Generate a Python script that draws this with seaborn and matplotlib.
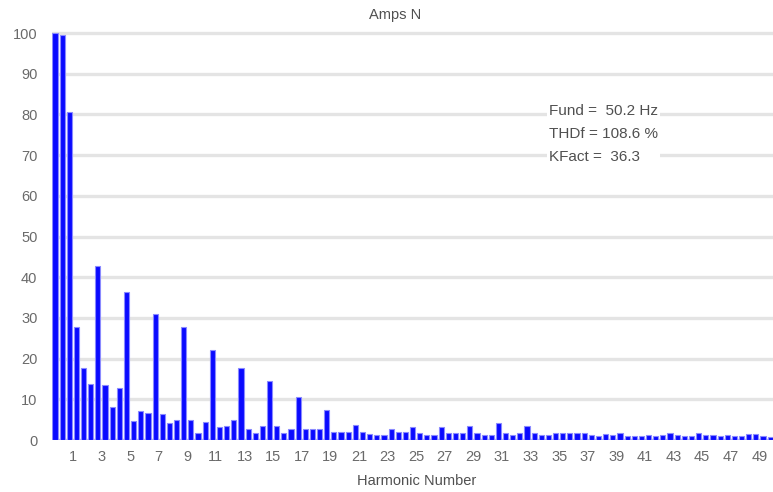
import matplotlib
matplotlib.use("Agg")
import matplotlib.pyplot as plt
import seaborn as sns
import pandas as pd

# Neutral current spectrum, one bar per half harmonic order
orders = [i / 2 for i in range(101)]
amps = [
    100.0, 99.5, 80.6, 27.7, 17.6, 13.8, 42.8, 13.5, 8.2, 12.7,
    36.4, 4.7, 7.2, 6.7, 30.9, 6.5, 4.1, 4.9, 27.8, 4.9,
    1.6, 4.5, 22.1, 3.3, 3.4, 4.9, 17.6, 2.6, 1.6, 3.4,
    14.6, 3.4, 1.6, 2.6, 10.6, 2.6, 2.6, 2.6, 7.4, 2.0,
    2.0, 2.0, 3.7, 2.0, 1.5, 1.2, 1.2, 2.6, 2.0, 2.0,
    3.3, 1.6, 1.2, 1.2, 3.3, 1.6, 1.6, 1.6, 3.4, 1.6,
    1.2, 1.2, 4.1, 1.6, 1.2, 1.6, 3.4, 1.6, 1.2, 1.2,
    1.7, 1.6, 1.6, 1.6, 1.6, 1.2, 1.0, 1.4, 1.2, 1.8,
    1.0, 1.0, 1.0, 1.3, 1.0, 1.2, 1.6, 1.2, 1.0, 1.0,
    1.6, 1.2, 1.2, 1.0, 1.2, 1.0, 1.0, 1.4, 1.4, 1.0,
    0.8,
]
tick_orders = list(range(1, 50, 2))
tick_labels = [str(h) for h in tick_orders]
y_ticks = list(range(0, 101, 10))
info_lines = ["Fund =  50.2 Hz", "THDf = 108.6 %", "KFact =  36.3"]

sns.set_theme(style="white")
plt.rcParams["font.family"] = ["Liberation Sans", "DejaVu Sans"]

df = pd.DataFrame({"order": orders, "amps": amps})

fig = plt.figure(figsize=(7.73, 4.92), dpi=100)
ax = fig.add_axes([52 / 773, 52 / 492, 721 / 773, 411 / 492])

for v in y_ticks[1:]:
    ax.axhline(v, color="#e4e4e4", lw=2.4, zorder=0)
ax.axhline(0, color="#b8b8ee", lw=2.5, zorder=0.5)

sns.barplot(data=df, x="order", y="amps", native_scale=True, width=0.72,
            color="#0a0aff", saturation=1, edgecolor="#8a8aff", linewidth=0.8,
            ax=ax, zorder=2)

ax.set_xlim(-0.21, 50.2)
ax.set_ylim(0, 101)
ax.set_xticks([h + 0.25 for h in tick_orders])
ax.set_xticklabels(tick_labels)
ax.set_yticks(y_ticks)
ax.set_yticklabels([str(v) for v in y_ticks])
ax.tick_params(axis="both", length=0, labelsize=10.5, colors="#6a6a6a")
ax.tick_params(axis="y", pad=10.5)
ax.tick_params(axis="x", pad=7)
ax.set_xlabel("")
ax.set_ylabel("")
for s in ax.spines.values():
    s.set_visible(False)

fig.text(395 / 773, 1 - 15 / 492, "Amps N", ha="center", va="center",
         fontsize=10.5, color="#505050")
fig.text(417 / 773, 1 - 481 / 492, "Harmonic Number", ha="center", va="center",
         fontsize=10.5, color="#505050")

# Summary readings, on a white patch that breaks the grid lines
fig.text(549 / 773, 1 - 104 / 492, "\n".join(info_lines), ha="left", va="top",
         fontsize=11, color="#505050", linespacing=1.8,
         bbox=dict(facecolor="white", edgecolor="none", pad=1.5))

fig.savefig("out.png", dpi=100)
